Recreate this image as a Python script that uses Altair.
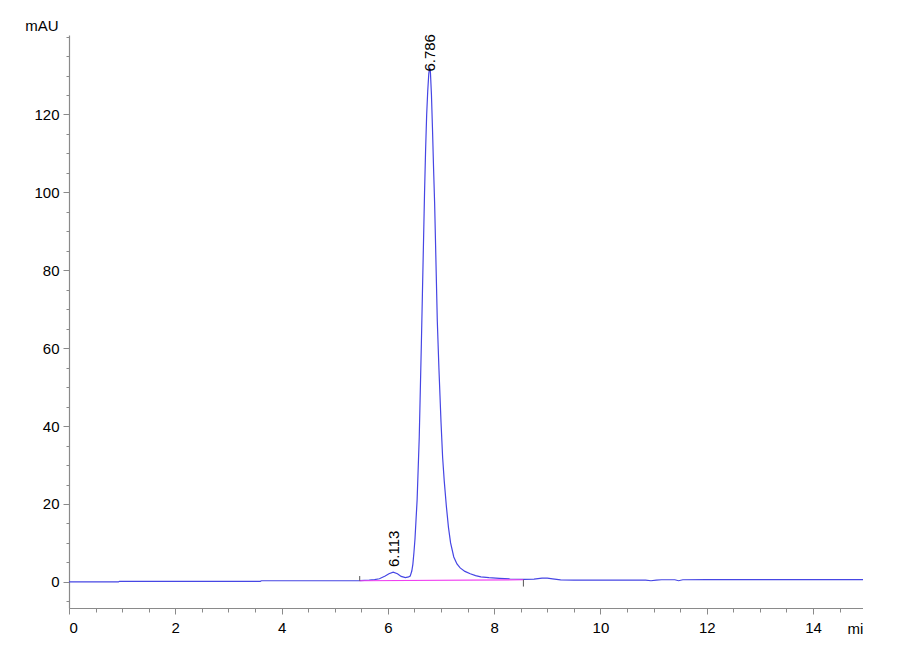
import altair as alt
import pandas as pd

# ---- data ----
times = [0.0, 0.93, 0.95, 3.60, 3.62, 5.47, 5.65, 5.75, 5.84, 5.95, 6.02, 6.10, 6.18, 6.25, 6.33,
         6.39, 6.42, 6.45, 6.47, 6.49, 6.51, 6.53, 6.55, 6.57, 6.59, 6.61, 6.63, 6.65, 6.67, 6.69,
         6.71, 6.73, 6.75, 6.77, 6.786, 6.80, 6.82, 6.84, 6.86, 6.88, 6.90, 6.93, 6.96, 6.98,
         7.00, 7.03, 7.06, 7.10, 7.14, 7.18, 7.24, 7.30, 7.36, 7.45, 7.55, 7.65, 7.75, 7.90,
         8.10, 8.30, 8.55, 8.75, 8.90, 9.00, 9.10, 9.25, 9.50, 10.0, 10.5, 10.85, 10.95, 11.05,
         11.15, 11.40, 11.47, 11.55, 12.0, 13.0, 14.0, 14.94]
signal = [0.0, 0.0, 0.15, 0.15, 0.3, 0.35, 0.45, 0.6, 0.8, 1.5, 2.1, 2.5, 2.1, 1.4, 1.1,
          1.3, 1.5, 2.8, 4.5, 7.5, 11.0, 16.0, 21.0, 29.0, 37.0, 49.0, 61.0, 74.0, 87.0, 100.0,
          111.0, 120.0, 126.0, 130.5, 132.0, 131.0, 125.0, 116.0, 106.0, 97.0, 85.0, 67.0, 55.0, 48.0,
          41.0, 32.0, 26.0, 19.5, 14.0, 10.0, 6.4, 4.6, 3.6, 2.7, 2.1, 1.6, 1.3, 1.1,
          0.9, 0.75, 0.65, 0.7, 0.95, 0.95, 0.8, 0.5, 0.45, 0.45, 0.45, 0.45, 0.3, 0.45,
          0.55, 0.55, 0.3, 0.55, 0.6, 0.6, 0.6, 0.6]

baseline_t = [5.47, 8.55]
baseline_v = [0.3, 0.55]

marker_t = [5.47, 8.55]
marker_v1 = [0.3, 0.55]
marker_v2 = [1.5, -1.2]

peak_t = [6.113, 6.786]
peak_label_v = [3.8, 131.0]
peak_labels = ["6.113", "6.786"]

x_major = [0, 2, 4, 6, 8, 10, 12, 14]
x_minor = [i * 0.5 for i in range(0, 30)]
y_major = [0, 20, 40, 60, 80, 100, 120]
y_minor = [-5] + [i * 5 for i in range(0, 29)]

X_DOMAIN = [0, 14.94]
Y_DOMAIN = [-6.7, 140.4]

BLUE = "#4646e4"
MAGENTA = "#f040f0"
AXIS_GRAY = "#8a8a8a"
FONT = "Liberation Sans"

sig_df = pd.DataFrame({"t": times, "v": signal})
bl_df = pd.DataFrame({"t": baseline_t, "v": baseline_v})
mk_df = pd.DataFrame({"t": marker_t, "v": marker_v1, "v2": marker_v2})
pk_df = pd.DataFrame({"t": peak_t, "v": peak_label_v, "label": peak_labels})

xs = alt.Scale(domain=X_DOMAIN, nice=False, zero=False)
ys = alt.Scale(domain=Y_DOMAIN, nice=False, zero=False)

line = alt.Chart(sig_df).mark_line(color=BLUE, strokeWidth=1.2).encode(
    x=alt.X("t:Q", scale=xs, axis=alt.Axis(
        values=x_major, tickSize=6, orient="bottom", labelPadding=6,
        title="min", titleAngle=0, titleAlign="left", titleBaseline="middle",
        titleX=778, titleY=20, titleFont=FONT, titleFontSize=15, titleFontWeight="normal",
        titleColor="black")),
    y=alt.Y("v:Q", scale=ys, axis=alt.Axis(
        values=y_major, tickSize=6, orient="left", labelPadding=4,
        title="mAU", titleAngle=0, titleAlign="right", titleBaseline="middle",
        titleX=-11, titleY=-10, titleFont=FONT, titleFontSize=15, titleFontWeight="normal",
        titleColor="black")),
)

minor = alt.Chart(bl_df).mark_line(color=MAGENTA, strokeWidth=1.2).encode(
    x=alt.X("t:Q", scale=xs, axis=alt.Axis(values=x_minor, tickSize=4, labels=False,
                                            domain=False, orient="bottom", title="")),
    y=alt.Y("v:Q", scale=ys, axis=alt.Axis(values=y_minor, tickSize=3, labels=False,
                                            domain=False, orient="left", title="")),
)

markers = alt.Chart(mk_df).mark_rule(color="#555555", strokeWidth=1).encode(
    x=alt.X("t:Q", scale=xs, axis=None),
    y=alt.Y("v:Q", scale=ys, axis=None),
    y2="v2:Q",
)

labels = alt.Chart(pk_df).mark_text(angle=270, align="left", baseline="middle",
                                     font=FONT, fontSize=15, color="black").encode(
    x=alt.X("t:Q", scale=xs, axis=None),
    y=alt.Y("v:Q", scale=ys, axis=None),
    text="label:N",
)

chart = alt.layer(line, minor, markers, labels).resolve_axis(
    x="independent", y="independent"
).properties(
    width=794, height=573,
    autosize=alt.AutoSizeParams(type="none"),
    padding={"left": 61, "top": 27, "right": 0, "bottom": 40},
    background="white",
).configure_view(stroke=None).configure_axis(
    grid=False, domainColor=AXIS_GRAY, tickColor=AXIS_GRAY, domainWidth=1.2, tickWidth=1,
    labelFont=FONT, labelFontSize=15, labelColor="black",
)

chart.save("out.html", embed_options={"renderer": "svg", "actions": False})
